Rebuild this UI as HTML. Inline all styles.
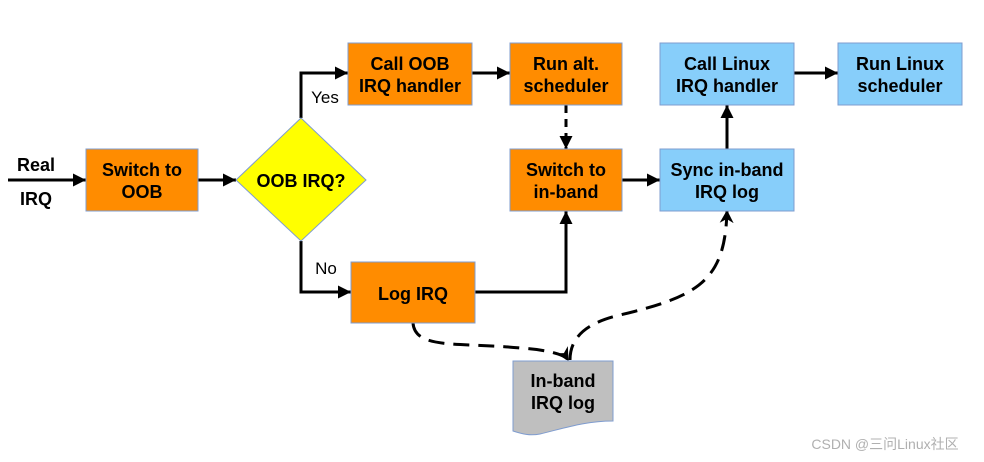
<!DOCTYPE html>
<html><head><meta charset="utf-8"><style>
body{margin:0;background:#fff;width:984px;height:462px;overflow:hidden}
svg{display:block}
text{font-family:"Liberation Sans",Arial,sans-serif;font-weight:bold;font-size:18px;fill:#000;text-anchor:middle}
.n{font-weight:normal}
</style></head><body>
<svg width="984" height="462" viewBox="0 0 984 462">
<defs><marker id="a" markerWidth="14" markerHeight="14" refX="13" refY="6.5" orient="auto" markerUnits="userSpaceOnUse"><path d="M0,0 L13,6.5 L0,13 z" fill="#000"/></marker>
<marker id="b" markerWidth="14" markerHeight="14" refX="12" refY="7" orient="auto" markerUnits="userSpaceOnUse"><path d="M0,0 L13,7 L0,14 L4,7 z" fill="#000"/></marker></defs>
<g stroke="#000" stroke-width="3" fill="none">
<line x1="8" y1="180" x2="86" y2="180" marker-end="url(#a)"/>
<line x1="198" y1="180" x2="236" y2="180" marker-end="url(#a)"/>
<polyline points="301,118 301,73 348,73" marker-end="url(#a)"/>
<polyline points="301,241 301,292 351,292" marker-end="url(#a)"/>
<line x1="472" y1="73" x2="510" y2="73" marker-end="url(#a)"/>
<line x1="566" y1="105" x2="566" y2="149" stroke-dasharray="8,6" marker-end="url(#a)"/>
<polyline points="475,292 566,292 566,211" marker-end="url(#a)"/>
<line x1="622" y1="180" x2="660" y2="180" marker-end="url(#a)"/>
<line x1="727" y1="149" x2="727" y2="105" marker-end="url(#a)"/>
<line x1="794" y1="73" x2="838" y2="73" marker-end="url(#a)"/>
<path d="M413,323 C415,350 460,342 520,348 C550,350 565,355 568,360" stroke-dasharray="16,9" marker-end="url(#b)"/>
<path d="M570,360 C570,335 590,322 620,315 C700,296 725,280 727,211" stroke-dasharray="16,9" marker-end="url(#b)"/>
</g>
<g stroke="#7f9ccf" stroke-width="1">
<rect x="86" y="149" width="112" height="62" fill="#ff8c00"/>
<rect x="348" y="43" width="124" height="62" fill="#ff8c00"/>
<rect x="510" y="43" width="112" height="62" fill="#ff8c00"/>
<rect x="510" y="149" width="112" height="62" fill="#ff8c00"/>
<rect x="351" y="262" width="124" height="61" fill="#ff8c00"/>
<rect x="660" y="149" width="134" height="62" fill="#87cefa"/>
<rect x="660" y="43" width="134" height="62" fill="#87cefa"/>
<rect x="838" y="43" width="124" height="62" fill="#87cefa"/>
<polygon points="301,118 366,180 301,241 236,180" fill="#ffff00"/>
<path d="M513,361 L613,361 L613,421 C585,421 565,428 540,434 C530,436 522,434 513,431 Z" fill="#bfbfbf"/>
</g>
<text x="36" y="171">Real</text><text x="36" y="205">IRQ</text>
<text x="142" y="176">Switch to</text><text x="142" y="198">OOB</text>
<text x="301" y="187">OOB IRQ?</text>
<text x="325" y="103" class="n" style="font-size:17px">Yes</text><text x="326" y="274" class="n" style="font-size:17px">No</text>
<text x="410" y="70">Call OOB</text><text x="410" y="92">IRQ handler</text>
<text x="566" y="70">Run alt.</text><text x="566" y="92">scheduler</text>
<text x="566" y="176">Switch to</text><text x="566" y="198">in-band</text>
<text x="413" y="300">Log IRQ</text>
<text x="727" y="176">Sync in-band</text><text x="727" y="198">IRQ log</text>
<text x="727" y="70">Call Linux</text><text x="727" y="92">IRQ handler</text>
<text x="900" y="70">Run Linux</text><text x="900" y="92">scheduler</text>
<text x="563" y="387">In-band</text><text x="563" y="409">IRQ log</text>
<text x="885" y="449" class="n" style="font-size:14px;fill:#b0b0b0">CSDN @三问Linux社区</text>
</svg>
</body></html>
